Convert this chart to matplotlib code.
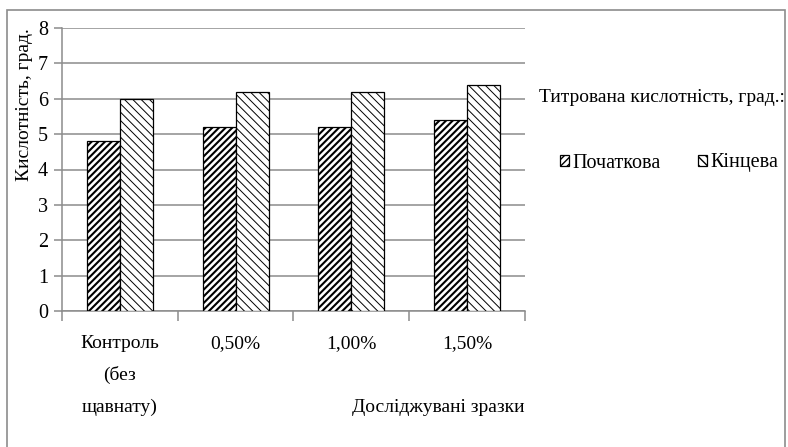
import matplotlib.pyplot as plt
from matplotlib.patches import Rectangle

plt.rcParams['font.family'] = ['Liberation Serif', 'DejaVu Serif']

categories = ['Контроль\n(без\nщавнату)', '0,50%', '1,00%', '1,50%']
initial = [4.8, 5.2, 5.2, 5.4]
final = [6.0, 6.2, 6.2, 6.4]
series_names = ['Початкова', 'Кінцева']

W, H = 788, 447
fig = plt.figure(figsize=(W / 100, H / 100), dpi=100)
ax = fig.add_axes([62 / W, 1 - 311 / H, (525 - 62) / W, (311 - 28) / H])

# outer chart frame (cut off at the bottom like the source)
fig.patches.append(Rectangle((7 / W, -0.05), (785 - 7) / W, 1.05 - 10 / H,
                             transform=fig.transFigure, fill=False,
                             edgecolor='#8c8c8c', linewidth=1.2))

w = 1 / 3.5
pos = list(range(len(categories)))
b1 = ax.bar([p - w / 2 for p in pos], initial, w, color='white', edgecolor='black',
            hatch='/' * 5, linewidth=0.9, zorder=3)
b2 = ax.bar([p + w / 2 for p in pos], final, w, color='white', edgecolor='black',
            hatch='\\' * 4, linewidth=0.9, zorder=3)
for p in b1:
    try:
        p.set_hatch_linewidth(1.5)
    except AttributeError:
        pass
for p in b2:
    try:
        p.set_hatch_linewidth(0.7)
    except AttributeError:
        pass

ax.set_xlim(-0.5, 3.5)
ax.set_ylim(0, 8)
ax.set_yticks(range(0, 9))
ax.grid(axis='y', color='#8c8c8c', linewidth=1.1, zorder=0)
for s in ['top', 'right']:
    ax.spines[s].set_visible(False)
for s in ['left', 'bottom']:
    ax.spines[s].set_color('#8c8c8c')
    ax.spines[s].set_linewidth(1.1)

ax.set_xticks([-0.5, 0.5, 1.5, 2.5, 3.5])
ax.set_xticklabels([])
ax.set_xticks(pos, minor=True)
ax.set_xticklabels(categories, minor=True, fontsize=14, linespacing=2.05, va='top')
ax.tick_params(axis='x', which='major', length=7, color='#8c8c8c', width=1.1)
ax.tick_params(axis='x', which='minor', length=0, pad=17)
ax.tick_params(axis='y', length=6, color='#8c8c8c', width=1.1, labelsize=14.5, pad=4)

ax.text(-0.082, 1.0, 'Кислотність, град.', transform=ax.transAxes, rotation=90,
        ha='center', va='top', fontsize=14)
fig.text(525 / W, 1 - 408 / H, 'Досліджувані зразки', ha='right', va='center', fontsize=14)

fig.text(539 / W, 1 - 98 / H, 'Титрована кислотність, град.:', ha='left', va='center',
         fontsize=14)
fig.legend([b1[0], b2[0]], series_names, loc='center left',
           bbox_to_anchor=(542 / W, 1 - 163 / H), ncol=2, frameon=False, fontsize=14.5,
           handlelength=0.42, handleheight=0.42, handletextpad=0.2, columnspacing=1.85)

fig.savefig('out.png', dpi=100)
